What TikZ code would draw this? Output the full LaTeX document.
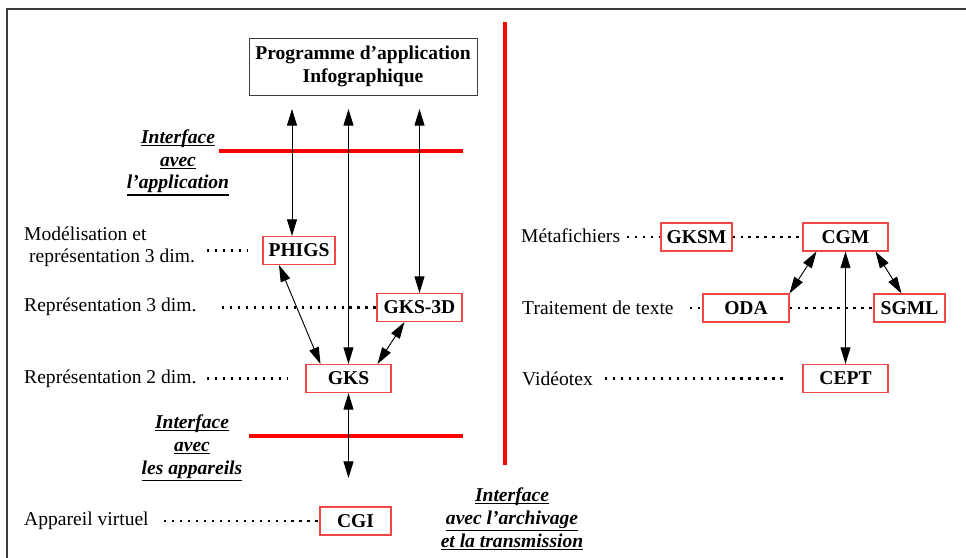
\documentclass[tikz,border=0pt]{standalone}
\usepackage{fontspec}
\setmainfont{Liberation Serif}
\usepackage{xcolor}
\usetikzlibrary{arrows.meta, positioning}

\definecolor{boxred}{RGB}{240,70,70}
\definecolor{framegray}{RGB}{60,60,60}

\newcommand\uln[1]{\setbox0\hbox{#1}%
  \hbox{\rlap{\raise-\dimexpr\dp0+2.2pt\relax\hbox{\vrule width\wd0 height 1.1pt depth 0pt}}\box0}}

\begin{document}
\begin{tikzpicture}[
  x=0.03cm, y=-0.03cm,
  font=\fontsize{16.7}{19}\selectfont,
  box/.style={rectangle, draw=boxred, line width=0.9pt, inner sep=0pt,
              minimum height=0.84cm, font=\fontsize{16.7}{19}\selectfont\bfseries},
  appbox/.style={rectangle, draw=framegray, line width=0.8pt, align=center,
                 minimum width=6.84cm, minimum height=1.71cm, inner sep=0pt,
                 font=\fontsize{16.7}{20}\selectfont\bfseries},
  level/.style={anchor=west, inner sep=0pt, align=left},
  iface/.style={align=center, inner sep=0pt,
                font=\fontsize{16.7}{19.5}\selectfont\bfseries\itshape},
  sep/.style={red, line width=3.2pt},
  arrow/.style={{Triangle[length=0.5cm,width=0.3cm]}-{Triangle[length=0.5cm,width=0.3cm]},
                line width=0.8pt},
  dots/.style={line width=2pt, dash pattern=on 2pt off 4.8pt}
]
\useasboundingbox (0,0) rectangle (966,558);
\draw[framegray, line width=1.6pt] (7,558) -- (7,9) -- (966,9);

\node[appbox] (app) at (363,66.5) {Programme d’application\\Infographique};

\node[box, minimum width=2.16cm] (phigs) at (299,250.5) {PHIGS};
\node[box, minimum width=2.55cm] (gks3d) at (419.5,307.5) {GKS-3D};
\node[box, minimum width=2.55cm] (gks)   at (348.5,378.5) {GKS};
\node[box, minimum width=2.13cm] (cgi)   at (355.5,521) {CGI};
\node[box, minimum width=2.13cm] (gksm)  at (696.5,237) {GKSM};
\node[box, minimum width=2.55cm] (cgm)   at (845.5,237) {CGM};
\node[box, minimum width=2.58cm] (oda)   at (746,308) {ODA};
\node[box, minimum width=2.13cm] (sgml)  at (909.5,308) {SGML};
\node[box, minimum width=2.55cm] (cept)  at (845.5,378.5) {CEPT};

\node[level] (modl)  at (24,247) {Modélisation et\\\hspace*{0.15cm}représentation 3 dim.};
\node[level] (rep3)  at (24,307) {Représentation 3 dim.};
\node[level] (rep2)  at (24,378.5) {Représentation 2 dim.};
\node[level] (virt)  at (24,520.5) {Appareil virtuel};
\node[level] (meta)  at (521,236) {Métafichiers};
\node[level] (texte) at (522,307.5) {Traitement de texte};
\node[level] (video) at (522,378.5) {Vidéotex};

\node[iface] (ifapp)  at (178,163) {\uln{Inter\smash{f}ace}\\\uln{avec}\\\uln{l’application}};
\node[iface] (ifdev)  at (192,448.5) {\uln{Inter\smash{f}ace}\\\uln{avec}\\\uln{les appareils}};
\node[iface] (ifarch) at (512,519.5) {\uln{Inter\smash{f}ace}\\\uln{avec l’archivage}\\\uln{et la transmission}};

\draw[sep] (219,151) -- (463,151);
\draw[sep] (249,436) -- (463,436);
\draw[sep] (505,22) -- (505,465);

\coordinate (tphigs) at (292,109);
\coordinate (tgks)   at (348.5,109);
\coordinate (tgks3d) at (419.5,109);
\coordinate (bcgi)   at (348.5,478);

\draw[arrow] (tphigs) -- (tphigs |- phigs.north);
\draw[arrow] (tgks) -- (gks);
\draw[arrow] (tgks3d) -- (gks3d);
\draw[arrow] ([xshift=-0.6cm]phigs.south) -- ([xshift=-0.84cm]gks.north);
\draw[arrow] ([xshift=-0.45cm]gks3d.south) -- ([xshift=0.87cm]gks.north);
\draw[arrow] (gks) -- (bcgi);
\draw[arrow] ([xshift=-0.87cm]cgm.south) -- (oda.north east);
\draw[arrow] (cgm) -- (cept);
\draw[arrow] ([xshift=0.9cm]cgm.south) -- ([xshift=-0.24cm]sgml.north);

\coordinate (dmodl)  at (207,250.5);
\coordinate (emodl)  at (248,250.5);
\coordinate (drep3)  at (222,307.5);
\coordinate (drep2)  at (207,378.5);
\coordinate (erep2)  at (287,378.5);
\coordinate (dvirt)  at (164,521);
\coordinate (dmeta)  at (627,237);
\coordinate (ecgm)   at (799,237);
\coordinate (dtexte) at (690,308);
\coordinate (dvideo) at (605,378.5);
\coordinate (evideo) at (784,378.5);

\draw[dots] (dmodl) -- (emodl);
\draw[dots] (drep3) -- (gks3d);
\draw[dots] (drep2) -- (erep2);
\draw[dots] (dvirt) -- (cgi);
\draw[dots] (dmeta) -- (gksm);
\draw[dots] (gksm) -- (ecgm);
\draw[dots] (dtexte) -- (oda);
\draw[dots] (oda) -- (sgml);
\draw[dots] (dvideo) -- (evideo);
\end{tikzpicture}
\end{document}
